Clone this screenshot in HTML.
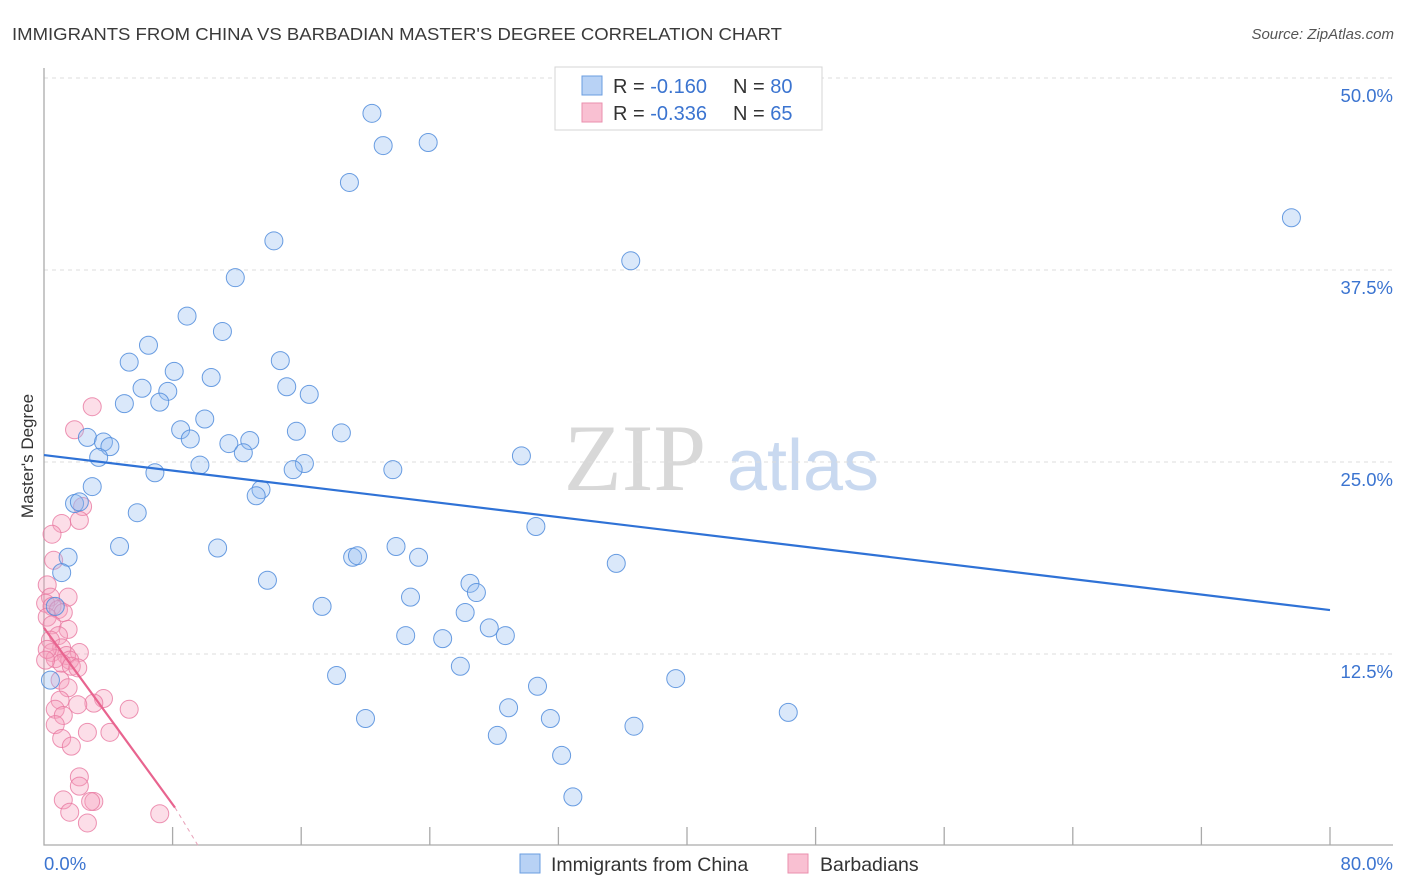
<!DOCTYPE html>
<html><head><meta charset="utf-8"><style>
body{margin:0;background:#fff;font-family:"Liberation Sans",sans-serif;}
svg{display:block}
</style></head><body>
<svg id="chart" width="1406" height="892" viewBox="0 0 1406 892" xmlns="http://www.w3.org/2000/svg">
<text x="12" y="40" font-size="17.5" fill="#3a3a3a" textLength="770" lengthAdjust="spacingAndGlyphs">IMMIGRANTS FROM CHINA VS BARBADIAN MASTER'S DEGREE CORRELATION CHART</text>
<text x="1394" y="39" font-size="15" fill="#555" font-style="italic" text-anchor="end">Source: ZipAtlas.com</text>
<g>
<text x="635" y="490" font-size="95" font-family="Liberation Serif,serif" fill="#d8d8d8" text-anchor="middle">ZIP</text>
<text x="803" y="490" font-size="72" fill="#c9d9f0" text-anchor="middle">atlas</text>
</g>
<g id="grid"></g>
<g id="axes"></g>
<g id="pts"></g>
<g id="trends"></g>
<text transform="translate(33,456) rotate(-90)" font-size="17" fill="#333" text-anchor="middle">Master's Degree</text>
<g>
<rect x="555" y="67" width="267" height="63" fill="#fff" stroke="#d5d5d5"/>
<rect x="582" y="76" width="20" height="19" fill="#b8d2f5" stroke="#6a9de0"/>
<rect x="582" y="103" width="20" height="19" fill="#f9c0d2" stroke="#ea8fae"/>
<text x="613" y="93" font-size="20" fill="#333">R = <tspan fill="#3b74d0">-0.160</tspan></text>
<text x="733" y="93" font-size="20" fill="#333">N = <tspan fill="#3b74d0">80</tspan></text>
<text x="613" y="120" font-size="20" fill="#333">R = <tspan fill="#3b74d0">-0.336</tspan></text>
<text x="733" y="120" font-size="20" fill="#333">N = <tspan fill="#3b74d0"> 65</tspan></text>
</g>
<g>
<rect x="520" y="854" width="20" height="19" fill="#b8d2f5" stroke="#6a9de0"/>
<text x="551" y="871" font-size="19.5" fill="#333">Immigrants from China</text>
<rect x="788" y="854" width="20" height="19" fill="#f9c0d2" stroke="#ea8fae"/>
<text x="820" y="871" font-size="19.5" fill="#333">Barbadians</text>
</g>
</svg>
<script>
const xTicks=[0,8,16,24,32,40,48,56,64,72,80];
const yTicks=[12.5,25,37.5,50];
const yTickLabels=["12.5%","25.0%","37.5%","50.0%"];
const xEndLabels=["0.0%","80.0%"];
const chinaX=[20.4,21.1,23.9,19.0,77.6,14.3,36.5,11.9,8.9,11.1,6.5,5.3,8.1,14.7,10.4,6.1,7.7,15.1,16.5,5.0,7.2,10.0,8.5,15.7,18.5,2.7,3.7,9.1,4.1,11.5,12.8,3.4,12.4,9.7,16.2,15.5,6.9,21.7,29.7,3.0,13.5,13.2,1.9,2.2,5.8,30.6,4.7,10.8,1.5,21.9,19.2,19.5,23.3,35.6,1.1,13.9,26.5,26.9,22.8,0.7,17.3,26.2,27.7,28.7,22.5,24.8,25.9,18.2,39.3,30.7,28.9,20.0,31.5,46.3,36.7,28.2,32.2,32.9,0.4,33.2];
const chinaY=[47.7,45.6,45.8,43.2,40.9,39.4,38.1,37.0,34.5,33.5,32.6,31.5,30.9,31.6,30.5,29.8,29.6,29.9,29.4,28.8,28.9,27.8,27.1,27.0,26.9,26.6,26.3,26.5,26.0,26.2,26.4,25.3,25.6,24.8,24.9,24.5,24.3,24.5,25.4,23.4,23.2,22.8,22.3,22.4,21.7,20.8,19.5,19.4,18.8,19.5,18.8,18.9,18.8,18.4,17.8,17.3,17.1,16.5,16.2,15.6,15.6,15.2,14.2,13.7,13.7,13.5,11.7,11.1,10.9,10.4,9.0,8.3,8.3,8.7,7.8,7.2,5.9,3.2,10.8,47.8];
const barbX=[3.0,1.9,2.4,1.1,2.2,0.5,0.6,0.2,0.4,1.5,0.1,0.5,0.9,1.2,0.2,0.5,1.5,0.9,0.4,1.1,0.5,2.2,1.4,0.7,1.6,1.1,1.7,2.1,1.0,1.5,3.7,1.0,3.1,2.1,5.3,0.7,1.2,0.7,2.7,4.1,1.1,1.7,2.2,2.2,1.2,3.1,2.9,1.6,7.2,2.7,0.2,0.1];
const barbY=[28.6,27.1,22.1,21.0,21.2,20.3,18.6,17.0,16.2,16.2,15.8,15.6,15.4,15.2,14.9,14.4,14.1,13.7,13.4,12.9,12.6,12.6,12.4,12.2,12.1,11.9,11.7,11.6,10.8,10.3,9.6,9.5,9.3,9.2,8.9,8.9,8.5,7.9,7.4,7.4,7.0,6.5,4.5,3.9,3.0,2.9,2.9,2.2,2.1,1.5,12.8,12.1];
const chinaTrend=[[0,25.45],[80,15.36]];
const barbTrendSolid=[[0,14.2],[8.15,2.5]];
const barbTrendDash=[[8.15,2.5],[9.6,0]];

const NS="http://www.w3.org/2000/svg";
const X=v=>44+v*16.075;
const Y=v=>846-v*15.36;
function mk(tag,attrs,parent){const e=document.createElementNS(NS,tag);for(const k in attrs)e.setAttribute(k,attrs[k]);parent.appendChild(e);return e;}
const grid=document.getElementById('grid'),axes=document.getElementById('axes'),pts=document.getElementById('pts'),tr=document.getElementById('trends');
yTicks.forEach((t,i)=>{
 const l=mk('line',{x1:44,x2:1393,y1:Y(t),y2:Y(t),stroke:'#ddd','stroke-dasharray':'4,4'},grid);
 
 
 const tx=mk('text',{x:1393,y:Y(t)+24,'font-size':18.5,fill:'#3b74d0','text-anchor':'end'},grid);
 tx.textContent=yTickLabels[i];
 
 
});
const ax=mk('path',{d:'M44 68V845H1393',fill:'none',stroke:'#aaa','stroke-width':1.3},axes);


xTicks.forEach((t,i)=>{if(i===0)return;
 const l=mk('line',{x1:X(t),x2:X(t),y1:827,y2:845,stroke:'#aaa','stroke-width':1.3},axes);
 
 
});
const xl0=mk('text',{x:44,y:870,'font-size':18.5,fill:'#3b74d0'},axes);xl0.textContent=xEndLabels[0];


const xl1=mk('text',{x:1393,y:870,'font-size':18.5,fill:'#3b74d0','text-anchor':'end'},axes);xl1.textContent=xEndLabels[1];


barbX.forEach((v,i)=>{
 const c=mk('circle',{cx:X(v),cy:Y(barbY[i]),r:9,fill:'rgba(245,160,190,0.35)',stroke:'rgba(232,120,160,0.8)','stroke-width':1},pts);
 
 
});
chinaX.forEach((v,i)=>{
 const c=mk('circle',{cx:X(v),cy:Y(chinaY[i]),r:9,fill:'rgba(150,190,240,0.35)',stroke:'rgba(80,140,220,0.85)','stroke-width':1},pts);
 
 
});
const t1=mk('line',{x1:X(chinaTrend[0][0]),y1:Y(chinaTrend[0][1]),x2:X(chinaTrend[1][0]),y2:Y(chinaTrend[1][1]),stroke:'#2f72d6','stroke-width':2.2},tr);


const t2=mk('line',{x1:X(barbTrendSolid[0][0]),y1:Y(barbTrendSolid[0][1]),x2:X(barbTrendSolid[1][0]),y2:Y(barbTrendSolid[1][1]),stroke:'#e8648f','stroke-width':2.2},tr);


const t3=mk('line',{x1:X(barbTrendDash[0][0]),y1:Y(barbTrendDash[0][1]),x2:X(barbTrendDash[1][0]),y2:Y(barbTrendDash[1][1]),stroke:'#e8a0b8','stroke-width':1,'stroke-dasharray':'4,4'},tr);


</script>
</body></html>
